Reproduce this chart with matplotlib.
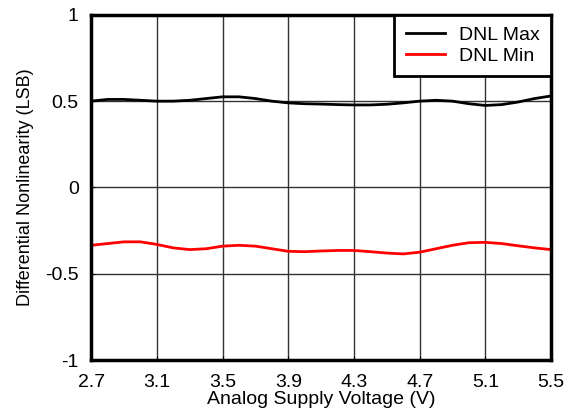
import numpy as np
import matplotlib
matplotlib.use("Agg")
import matplotlib.pyplot as plt

plt.rcParams['font.family'] = ['Liberation Sans', 'DejaVu Sans']

voltage = [2.7, 2.8, 2.9, 3.0, 3.1, 3.2, 3.3, 3.4, 3.5, 3.6, 3.7, 3.8, 3.9, 4.0,
           4.1, 4.2, 4.3, 4.4, 4.5, 4.6, 4.7, 4.8, 4.9, 5.0, 5.1, 5.2, 5.3, 5.4, 5.5]
dnl_max = [0.50, 0.51, 0.51, 0.505, 0.50, 0.50, 0.505, 0.515, 0.525, 0.525, 0.515,
           0.50, 0.49, 0.485, 0.483, 0.48, 0.478, 0.478, 0.482, 0.49, 0.50, 0.505,
           0.50, 0.485, 0.475, 0.48, 0.495, 0.515, 0.53]
dnl_min = [-0.335, -0.325, -0.315, -0.315, -0.33, -0.35, -0.36, -0.355, -0.34,
           -0.335, -0.34, -0.355, -0.37, -0.372, -0.368, -0.365, -0.365, -0.372,
           -0.38, -0.385, -0.375, -0.355, -0.335, -0.32, -0.318, -0.325, -0.338,
           -0.35, -0.36]
xticks = [2.7, 3.1, 3.5, 3.9, 4.3, 4.7, 5.1, 5.5]
yticks = [-1, -0.5, 0, 0.5, 1]

fig = plt.figure(figsize=(5.77, 4.12), dpi=100)
ax = fig.add_axes([0.158, 0.126, 0.797, 0.838])

ax.plot(voltage, dnl_max, color='black', lw=2, label='DNL Max')
ax.plot(voltage, dnl_min, color='red', lw=2, label='DNL Min')

ax.set_xlim(2.7, 5.5)
ax.set_ylim(-1, 1)
ax.set_xticks(xticks)
ax.set_yticks(yticks)
ax.set_xticklabels([f'{v:.1f}' for v in xticks])
ax.set_yticklabels(['-1', '-0.5', '0', '0.5', '1'])
ax.grid(True, color='#333333', lw=1)
ax.tick_params(labelsize=14, length=3, direction='in')
ax.tick_params(axis='x', pad=10)
ax.tick_params(axis='y', pad=9)
for s in ax.spines.values():
    s.set_linewidth(2.5)

ax.set_xlabel('Analog Supply Voltage (V)', fontsize=14, labelpad=0)
ax.set_ylabel('Differential Nonlinearity (LSB)', fontsize=13, labelpad=8)

leg = ax.legend(loc='upper right', fontsize=14, fancybox=False, framealpha=1,
                borderaxespad=0, handlelength=2.0, labelspacing=0.15,
                borderpad=0.6, handletextpad=0.7)
leg.get_frame().set_edgecolor('black')
leg.get_frame().set_linewidth(2)

fig.savefig('out.png', dpi=100)
